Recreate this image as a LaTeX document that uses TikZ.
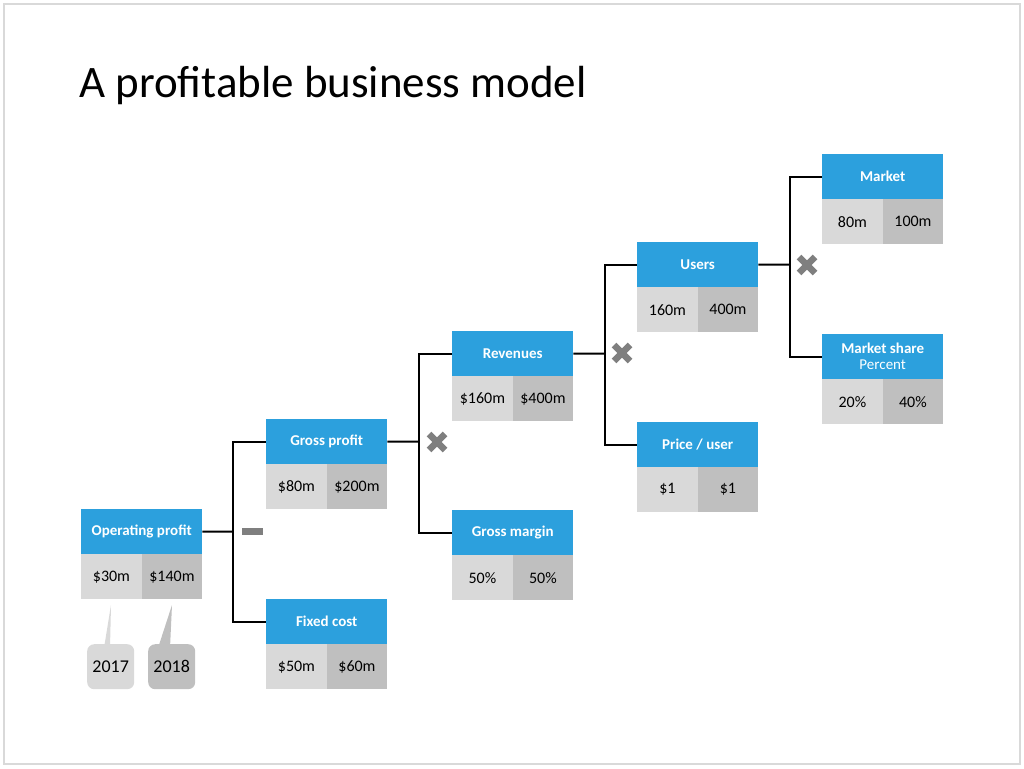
\documentclass[tikz,border=0pt]{standalone}
\usepackage{fontspec}
\setmainfont{Carlito}
\definecolor{hblue}{RGB}{44,160,221}
\definecolor{vlight}{RGB}{217,217,217}
\definecolor{vdark}{RGB}{191,191,191}
\definecolor{opgray}{RGB}{127,127,127}
\definecolor{frame}{RGB}{217,217,217}
\tikzset{
  hdr/.style={rectangle, fill=hblue, text=white, font=\fontsize{15}{17}\selectfont\bfseries,
    minimum width=121pt, minimum height=45pt, inner sep=0pt, anchor=north west, align=center},
  vl/.style={rectangle, fill=vlight, text=black, font=\fontsize{16}{18}\selectfont,
    minimum width=60.5pt, minimum height=45pt, inner sep=0pt, anchor=north west},
  vd/.style={vl, fill=vdark},
  conn/.style={draw=black, line width=2pt},
  crossop/.style={draw=opgray, line width=6.5pt},
  callout/.style={rectangle, rounded corners=7pt, minimum width=47pt, minimum height=45pt,
    inner sep=0pt, anchor=north west, font=\fontsize{18}{20}\selectfont}
}
\newcommand{\mybox}[5]{%
  \node[hdr] (#1) at (#2,#3) {#4};
  \node[vl] (#1l) at (#2,#3+45) {\csname @firstoftwo\endcsname#5};
  \node[vd] (#1r) at (#2+60.5,#3+45) {\csname @secondoftwo\endcsname#5};
}
\newcommand{\xop}[2]{%
  \draw[crossop] (#1-8,#2-8) -- (#1+8,#2+8);
  \draw[crossop] (#1-8,#2+8) -- (#1+8,#2-8);
}
\begin{document}
\begin{tikzpicture}[x=1pt,y=-1pt]
\useasboundingbox (0,0) rectangle (1024,768);
\draw[frame, line width=1.2pt] (4,4) rectangle (1020,764);
\node[anchor=base west, inner sep=0pt, font=\fontsize{45}{50}\selectfont] (title) at (79,97) {A profitable business model};

\mybox{op}{81}{509}{Operating profit}{{\$30m}{\$140m}}
\mybox{gp}{266}{419}{Gross profit}{{\$80m}{\$200m}}
\mybox{fc}{266}{599}{Fixed cost}{{\$50m}{\$60m}}
\mybox{rv}{452}{331}{Revenues}{{\$160m}{\$400m}}
\mybox{gm}{452}{510}{Gross margin}{{50\%}{50\%}}
\mybox{us}{637}{242}{Users}{{160m}{400m}}
\mybox{pu}{637}{422}{Price / user}{{\$1}{\$1}}
\mybox{mk}{822}{154}{Market}{{80m}{100m}}
\node[hdr, align=center] (ms) at (822,334) {Market share\\[-1pt]{\mdseries Percent}};
\node[vl] (msl) at (822,379) {20\%};
\node[vd] (msr) at (882.5,379) {40\%};

% connectors
\coordinate (j1) at (233,531.5);
\draw[conn] (op.east) -- (j1);
\draw[conn] (gp.west) -| (j1) |- (fc.west);
\coordinate (j2) at (419,441.5);
\draw[conn] (gp.east) -- (j2);
\draw[conn] (rv.west) -| (j2) |- (gm.west);
\coordinate (j3) at (605,353.5);
\draw[conn] (rv.east) -- (j3);
\draw[conn] (us.west) -| (j3) |- (pu.west);
\coordinate (j4) at (790,264.5);
\draw[conn] (us.east) -- (j4);
\draw[conn] (mk.west) -| (j4) |- (ms.west);

% operators
\fill[opgray] (242,528) rectangle (263,535);
\xop{437}{442}
\xop{622}{353}
\xop{807}{265}

% callouts
\fill[vlight] (111,605) -- (104,648) -- (110,648) -- cycle;
\node[callout, fill=vlight] (y17) at (87,644) {2017};
\fill[vdark] (172,605) -- (158,648) -- (170,648) -- cycle;
\node[callout, fill=vdark] (y18) at (148,644) {2018};
\end{tikzpicture}
\end{document}
